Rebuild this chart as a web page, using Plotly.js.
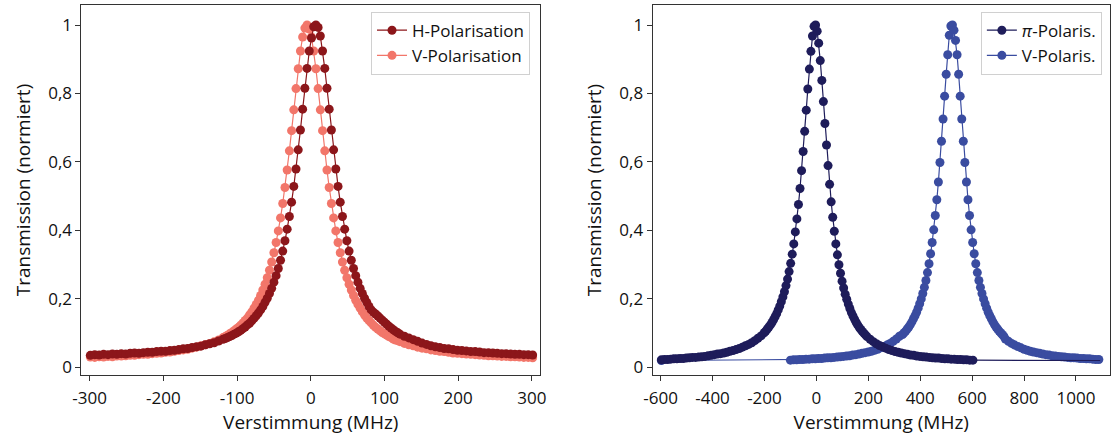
<!DOCTYPE html>
<html>
<head>
<meta charset="utf-8">
<script src="https://cdn.plot.ly/plotly-3.0.1.min.js"></script>
<style>html,body{margin:0;padding:0;background:#fff;}#chart{width:1113px;height:439px;}</style>
</head>
<body>
<div id="chart"></div>
<script>
// ---------- Left panel data (MHz, normalised transmission) ----------
const leftX = [-299,-293,-287,-281,-275,-269,-263,-257,-251,-245,-239,-233,-227,-221,-215,-209,-203,-197,-191,-185,-179,-173,-167,-161,-155,-149,-143,-137,-131,-125,-119,
-116,-113,-110,-107,-104,-101,-98,-95,-92,-89,-86,-83,-80,-77,-74,-71,-68,-65,-62,-59,-56,-53,-50,-47,-44,-41,-38,-35,-32,-29,-26,-23,-20,-17,-14,-11,-8,-5,-2,
1,4,7,10,13,16,19,22,25,28,31,34,37,40,43,46,49,52,55,58,61,64,67,70,73,76,79,82,85,88,91,94,97,100,103,106,109,112,115,118,
121,127,133,139,145,151,157,163,169,175,181,187,193,199,205,211,217,223,229,235,241,247,253,259,265,271,277,283,289,295,301];

const hPolY = [0.034,0.036,0.035,0.037,0.036,0.038,0.037,0.039,0.038,0.040,0.041,0.040,0.042,0.043,0.043,0.045,0.046,0.046,0.048,0.049,0.051,0.053,0.054,0.057,0.059,0.061,0.065,0.068,0.071,0.076,0.081,
0.083,0.086,0.089,0.092,0.096,0.099,0.103,0.107,0.112,0.117,0.123,0.128,0.135,0.142,0.150,0.158,0.167,0.177,0.189,0.201,0.215,0.230,0.248,0.267,0.288,0.312,0.339,0.369,0.403,0.440,0.482,0.528,0.579,0.635,0.693,0.754,0.815,0.873,0.924,
0.962,0.995,1.000,0.993,0.968,0.924,0.873,0.815,0.754,0.693,0.635,0.579,0.528,0.482,0.440,0.403,0.369,0.339,0.312,0.288,0.267,0.248,0.230,0.215,0.201,0.189,0.177,0.167,0.160,0.155,0.149,0.143,0.137,0.131,0.125,0.119,0.114,0.109,0.104,0.100,
0.096,0.090,0.085,0.080,0.075,0.070,0.066,0.062,0.059,0.057,0.054,0.053,0.051,0.049,0.048,0.047,0.045,0.045,0.044,0.042,0.042,0.041,0.040,0.039,0.039,0.038,0.037,0.037,0.036,0.036,0.035];

const vPolY = [0.029,0.028,0.030,0.029,0.031,0.030,0.032,0.032,0.033,0.034,0.034,0.036,0.037,0.037,0.039,0.040,0.041,0.043,0.044,0.046,0.048,0.050,0.052,0.055,0.058,0.062,0.065,0.069,0.074,0.079,0.086,
0.089,0.093,0.097,0.101,0.106,0.111,0.116,0.122,0.129,0.136,0.143,0.152,0.161,0.172,0.183,0.195,0.209,0.225,0.242,0.261,0.283,0.307,0.334,0.364,0.398,0.436,0.478,0.525,0.576,0.632,0.691,0.752,0.814,0.872,0.924,0.965,0.991,1.000,0.988,
0.965,0.924,0.872,0.814,0.752,0.691,0.632,0.576,0.525,0.478,0.436,0.398,0.364,0.334,0.307,0.283,0.261,0.242,0.225,0.209,0.195,0.183,0.172,0.161,0.152,0.143,0.136,0.129,0.122,0.116,0.111,0.106,0.101,0.097,0.093,0.089,0.086,0.082,0.079,0.077,
0.074,0.069,0.065,0.062,0.058,0.055,0.053,0.050,0.048,0.046,0.045,0.043,0.041,0.040,0.039,0.038,0.037,0.036,0.035,0.034,0.033,0.033,0.032,0.031,0.031,0.030,0.030,0.029,0.028,0.028,0.027];

// ---------- Right panel data ----------
const piX = [-597,-585,-573,-561,-549,-537,-525,-513,-501,-489,-477,-465,-453,-441,-429,-417,-405,-393,-381,-369,-357,-345,-333,-321,-309,-297,-285,-273,-261,-249,-237,-225,-213,
-201,-195,-189,-183,-177,-171,-165,-159,-153,-147,-141,-135,-129,-123,-117,-111,-105,-99,-93,-87,-81,-75,-69,-63,-57,-51,-45,-39,-33,-27,-21,-15,-9,-3,
3,9,15,21,27,33,39,45,51,57,63,69,75,81,87,93,99,105,111,117,123,129,135,141,147,153,159,165,171,177,183,189,195,
207,219,231,243,255,267,279,291,303,315,327,339,351,363,375,387,399,411,423,435,447,459,471,483,495,507,519,531,543,555,567,579,591,603,
1093];

const piY = [0.021,0.022,0.022,0.023,0.024,0.024,0.025,0.025,0.026,0.027,0.028,0.028,0.029,0.030,0.031,0.033,0.034,0.036,0.038,0.039,0.041,0.043,0.046,0.048,0.051,0.054,0.058,0.062,0.066,0.071,0.077,0.084,0.091,
0.100,0.105,0.111,0.117,0.123,0.130,0.138,0.147,0.156,0.167,0.178,0.191,0.205,0.220,0.238,0.257,0.279,0.303,0.330,0.360,0.395,0.433,0.475,0.522,0.574,0.630,0.689,0.751,0.813,0.871,0.923,0.968,0.996,1.000,
0.982,0.947,0.896,0.838,0.776,0.712,0.649,0.589,0.534,0.483,0.438,0.397,0.360,0.328,0.299,0.274,0.251,0.231,0.213,0.198,0.184,0.171,0.159,0.149,0.140,0.131,0.123,0.116,0.110,0.104,0.099,0.094,0.089,
0.081,0.074,0.068,0.063,0.059,0.055,0.051,0.048,0.045,0.043,0.041,0.039,0.037,0.035,0.034,0.032,0.031,0.030,0.029,0.028,0.027,0.026,0.026,0.025,0.024,0.024,0.023,0.023,0.022,0.022,0.021,0.021,0.020,0.020,
0.019];

const vPolRX = [-597,
-100,-88,-76,-64,-52,-40,-28,-16,-4,8,20,32,44,56,68,80,92,104,116,128,140,152,164,176,188,200,212,224,236,248,260,272,284,296,308,320,
332,338,344,350,356,362,368,374,380,386,392,398,404,410,416,422,428,434,440,446,452,458,464,470,476,482,488,494,500,506,512,518,524,530,
536,542,548,554,560,566,572,578,584,590,596,602,608,614,620,626,632,638,644,650,656,662,668,674,680,686,692,698,704,710,716,722,728,
740,752,764,776,788,800,812,824,836,848,860,872,884,896,908,920,932,944,956,968,980,992,1004,1016,1028,1040,1052,1064,1076,1088,1100];

const vPolRY = [0.019,
0.020,0.021,0.021,0.022,0.022,0.023,0.023,0.024,0.024,0.025,0.025,0.026,0.027,0.027,0.028,0.029,0.030,0.031,0.032,0.033,0.035,0.036,0.038,0.040,0.042,0.044,0.046,0.049,0.052,0.056,0.060,0.064,0.069,0.075,0.082,
0.090,0.095,0.100,0.105,0.111,0.117,0.124,0.132,0.141,0.150,0.160,0.172,0.185,0.199,0.215,0.233,0.253,0.276,0.302,0.331,0.364,0.401,0.443,0.489,0.541,0.598,0.660,0.725,0.792,0.856,0.913,0.970,0.997,1.000,
0.985,0.955,0.913,0.856,0.792,0.725,0.660,0.598,0.541,0.489,0.443,0.401,0.364,0.331,0.302,0.276,0.253,0.233,0.215,0.199,0.185,0.172,0.160,0.150,0.141,0.132,0.124,0.117,0.111,0.105,0.100,0.095,0.090,
0.082,0.075,0.069,0.064,0.060,0.056,0.052,0.049,0.046,0.044,0.042,0.040,0.038,0.036,0.035,0.033,0.032,0.031,0.030,0.029,0.028,0.027,0.027,0.026,0.025,0.025,0.024,0.024,0.023,0.022,0.022];

// ---------- Tick labels ----------
const leftTickVals = [-300,-200,-100,0,100,200,300];
const leftTickText = ['-300','-200','-100','0','100','200','300'];
const rightTickVals = [-600,-400,-200,0,200,400,600,800,1000];
const rightTickText = ['-600','-400','-200','0','200','400','600','800','1000'];
const yTickVals = [0,0.2,0.4,0.6,0.8,1];
const yTickText = ['0','0,2','0,4','0,6','0,8','1'];

const names = ['H-Polarisation','V-Polarisation','<i>π</i>-Polaris.','V-Polaris.'];
const colors = ['#8C161A','#F2766A','#1E1C5A','#3A4CA0'];

function tr(x, y, i, xa, ya, leg, rank, extra) {
  const t = {
    x: x, y: y, type: 'scatter', mode: 'lines+markers', name: names[i],
    xaxis: xa, yaxis: ya, legend: leg, legendrank: rank,
    line: {color: colors[i], width: 1.2},
    marker: {color: colors[i], size: 9}
  };
  if (extra) Object.assign(t.marker, extra);
  return t;
}

// drawing order: second series of each panel underneath, first on top
const data = [
  tr(leftX, vPolY, 1, 'x', 'y', 'legend', 2),
  tr(leftX, hPolY, 0, 'x', 'y', 'legend', 1),
  tr(vPolRX, vPolRY, 3, 'x2', 'y2', 'legend2', 2),
  tr(piX, piY, 2, 'x2', 'y2', 'legend2', 1, {opacity: piX.map((v, i) => i === piX.length - 1 ? 0 : 1)})
];

const FONT = 'Open Sans, Noto Sans, sans-serif';
const axisCommon = {
  ticks: 'outside', ticklen: 5, tickwidth: 1, tickcolor: '#333',
  showline: true, linecolor: '#333', linewidth: 1, mirror: true,
  showgrid: false, zeroline: false,
  tickfont: {family: FONT, size: 17, color: '#111'}
};
const titleFont = {family: FONT, size: 19, color: '#111'};
const yRange = [-0.0234, 1.0585];

const layout = {
  width: 1113, height: 439,
  margin: {l: 0, r: 0, t: 5, b: 64},
  paper_bgcolor: '#fff', plot_bgcolor: '#fff',
  font: {family: FONT, size: 17, color: '#111'},
  xaxis: Object.assign({}, axisCommon, {
    domain: [0.0732, 0.4852], range: [-311, 311], anchor: 'y',
    tickmode: 'array', tickvals: leftTickVals, ticktext: leftTickText, ticklabelstandoff: 3,
    title: {text: 'Verstimmung (MHz)', font: titleFont, standoff: 7}
  }),
  yaxis: Object.assign({}, axisCommon, {
    domain: [0, 1], range: yRange, anchor: 'x',
    tickmode: 'array', tickvals: yTickVals, ticktext: yTickText,
    title: {text: 'Transmission (normiert)', font: titleFont, standoff: 12}
  }),
  xaxis2: Object.assign({}, axisCommon, {
    domain: [0.5863, 0.9973], range: [-631, 1131], anchor: 'y2',
    tickmode: 'array', tickvals: rightTickVals, ticktext: rightTickText, ticklabelstandoff: 3,
    title: {text: 'Verstimmung (MHz)', font: titleFont, standoff: 7}
  }),
  yaxis2: Object.assign({}, axisCommon, {
    domain: [0, 1], range: yRange, anchor: 'x2',
    tickmode: 'array', tickvals: yTickVals, ticktext: yTickText,
    title: {text: 'Transmission (normiert)', font: titleFont, standoff: 12}
  }),
  legend: {
    x: 0.4762, xanchor: 'right', y: 0.982, yanchor: 'top',
    bgcolor: 'rgba(255,255,255,0.9)', bordercolor: '#d0d0d0', borderwidth: 1,
    font: {family: FONT, size: 17, color: '#111'}, tracegroupgap: 0
  },
  legend2: {
    x: 0.990, xanchor: 'right', y: 0.982, yanchor: 'top',
    bgcolor: 'rgba(255,255,255,0.9)', bordercolor: '#d0d0d0', borderwidth: 1,
    font: {family: FONT, size: 17, color: '#111'}, tracegroupgap: 0
  },
  showlegend: true
};

Plotly.newPlot('chart', data, layout, {staticPlot: true, displayModeBar: false});
</script>
</body>
</html>
